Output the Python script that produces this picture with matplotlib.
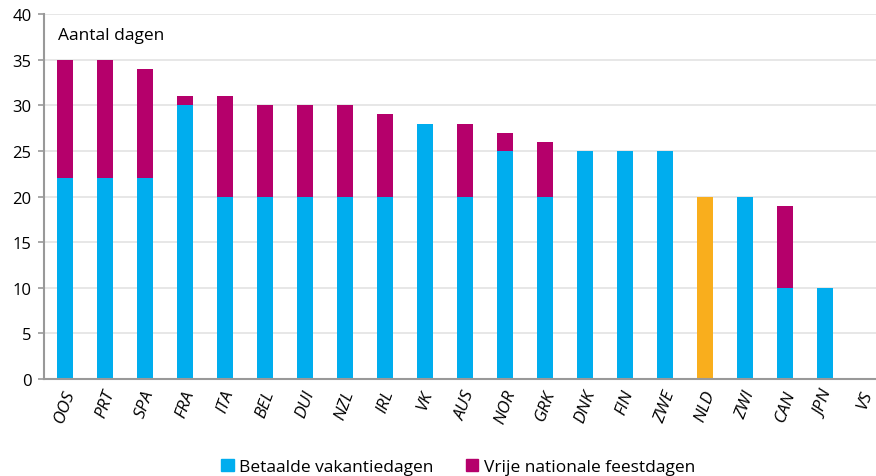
import numpy as np
import matplotlib.pyplot as plt

landen = ['OOS', 'PRT', 'SPA', 'FRA', 'ITA', 'BEL', 'DUI', 'NZL', 'IRL', 'VK', 'AUS',
          'NOR', 'GRK', 'DNK', 'FIN', 'ZWE', 'NLD', 'ZWI', 'CAN', 'JPN', 'VS']
vakantie = [22, 22, 22, 30, 20, 20, 20, 20, 20, 28, 20, 25, 20, 25, 25, 25, 20, 20, 10, 10, 0]
feestdagen = [13, 13, 12, 1, 11, 10, 10, 10, 9, 0, 8, 2, 6, 0, 0, 0, 0, 0, 9, 0, 0]

blauw = '#00ADEE'
paars = '#B5006B'
oranje = '#F9AE1D'

plt.rcParams['font.family'] = ['Open Sans', 'DejaVu Sans']

fig = plt.figure(figsize=(8.76, 4.77), dpi=100)
ax = fig.add_axes([44 / 876, 97 / 477, 1 - 44 / 876, 365 / 477])

x = np.arange(len(landen))
kleuren = [oranje if l == 'NLD' else blauw for l in landen]
ax.bar(x, vakantie, width=0.4, color=kleuren, zorder=2)
ax.bar(x, feestdagen, width=0.4, bottom=vakantie, color=paars, zorder=2)

ax.set_xlim(-0.525, 20.275)
ax.set_ylim(0, 40)
ax.set_yticks(range(0, 41, 5))
ax.yaxis.grid(True, color='#E3E3E3', linewidth=1.2, zorder=0)
ax.set_axisbelow(True)

ax.set_xticks(x)
ax.set_xticklabels(landen, rotation=70, ha='center', va='top', fontstyle='italic', fontsize=12.5)
ax.tick_params(axis='x', length=0, pad=6)
ax.tick_params(axis='y', length=4, width=1.2, color='#999999', labelsize=12, pad=5)

for s in ['top', 'right']:
    ax.spines[s].set_visible(False)
ax.spines['left'].set_color('#999999')
ax.spines['left'].set_linewidth(1.5)
ax.spines['bottom'].set_color('#999999')
ax.spines['bottom'].set_linewidth(1.5)

ax.text(0.017, 0.965, 'Aantal dagen', transform=ax.transAxes, fontsize=12.5, va='top', ha='left')

h1 = plt.Rectangle((0, 0), 1, 1, color=blauw)
h2 = plt.Rectangle((0, 0), 1, 1, color=paars)
fig.legend([h1, h2], ['Betaalde vakantiedagen', 'Vrije nationale feestdagen'],
           loc='center', bbox_to_anchor=(0.523, 0.018), ncol=2, frameon=False,
           fontsize=12.5, handlelength=0.7, handleheight=0.7, handletextpad=0.3,
           columnspacing=1.9, borderpad=0)

fig.savefig('out.png', dpi=100)
